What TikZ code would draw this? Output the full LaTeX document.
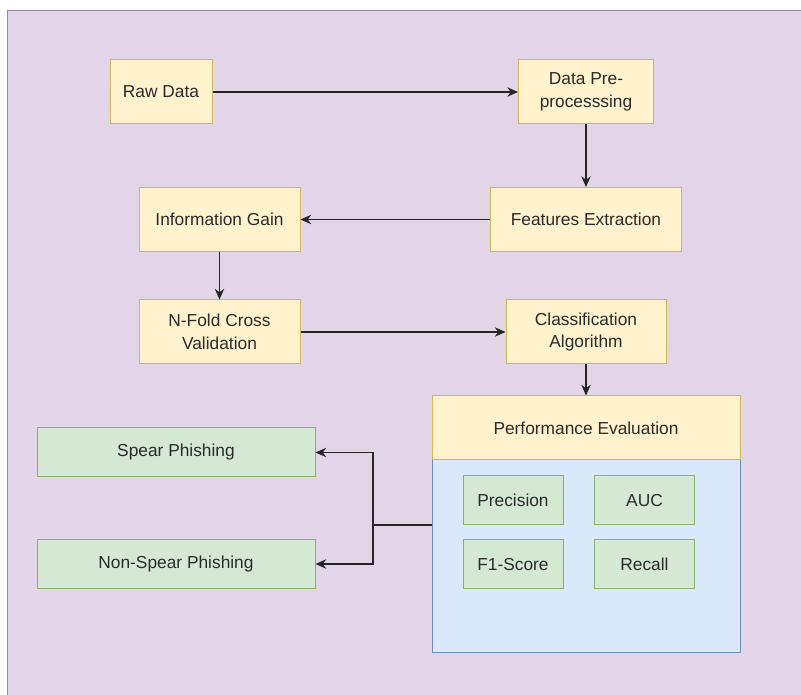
\documentclass[tikz,border=0pt]{standalone}
\usepackage{fontspec}
\setmainfont{Liberation Sans}
\usetikzlibrary{arrows.meta, positioning}
\definecolor{pnbg}{HTML}{E1D5E7}
\definecolor{pnedge}{HTML}{9A88A8}
\definecolor{ylfill}{HTML}{FFF2CC}
\definecolor{yledge}{HTML}{D6B656}
\definecolor{grfill}{HTML}{D5E8D4}
\definecolor{gredge}{HTML}{82B366}
\definecolor{blfill}{HTML}{DAE8FC}
\definecolor{bledge}{HTML}{6C8EBF}
\definecolor{txt}{HTML}{2B2B2B}

\begin{document}
\begin{tikzpicture}[x=0.75pt, y=-0.75pt,
     font=\fontsize{13}{17}\selectfont,
     blk/.style={draw=yledge, line width=0.75pt, fill=ylfill, text=txt, inner sep=0pt, align=center, minimum height=48pt},
     met/.style={draw=gredge, line width=0.75pt, fill=grfill, text=txt, inner sep=0pt, minimum width=75pt, minimum height=36.75pt},
     res/.style={met, minimum width=208.5pt},
     a/.style={-{Stealth[length=8pt, width=7pt]}, line width=1pt, black!85}]
    \useasboundingbox (0,0) rectangle (801,695);
    \fill[white] (0,0) rectangle (801,695);
    \draw[fill=pnbg, draw=pnedge, line width=0.75pt] (7,11) rectangle (805,700);
    % pipeline
    \node[blk, minimum width=76.5pt] (raw) at (161,92) {Raw Data};
    \node[blk, minimum width=101.25pt] (pre) at (586,92) {Data Pre-\\processsing};
    \node[blk, minimum width=143.25pt] (fx) at (586,219.5) {Features Extraction};
    \node[blk, minimum width=120.75pt] (ig) at (219.5,219.5) {Information Gain};
    \node[blk, minimum width=120.75pt] (nf) at (219.5,332) {N-Fold Cross\\Validation};
    \node[blk, minimum width=120pt] (cls) at (586,332) {Classification\\Algorithm};
    % evaluation
    \node[draw=bledge, line width=0.75pt, fill=blfill, minimum width=231pt, minimum height=144.75pt] (pb) at (586,556.5) {};
    \node[blk, minimum width=231pt] (pe) at (586,428) {Performance Evaluation};
    \node[met] (prec) at (513,500.5) {Precision};
    \node[met] (auc) at (644.5,500.5) {AUC};
    \node[met] (f1) at (513,564.5) {F1-Score};
    \node[met] (rec) at (644.5,564.5) {Recall};
    % results
    \node[res] (sp) at (176,452.5) {Spear Phishing};
    \node[res] (nsp) at (176,564) {Non-Spear Phishing};
    \coordinate (split) at (373,525);
    \draw[a] (raw) -- (pre);
    \draw[a] (pre) -- (fx);
    \draw[a] (fx) -- (ig);
    \draw[a] (ig) -- (nf);
    \draw[a] (nf) -- (cls);
    \draw[a] (cls) -- (pe);
    \draw[line width=1pt, black!85] (split -| pb.west) -- (split);
    \draw[a] (split) |- (sp.east);
    \draw[a] (split) |- (nsp.east);
  \end{tikzpicture}
\end{document}
